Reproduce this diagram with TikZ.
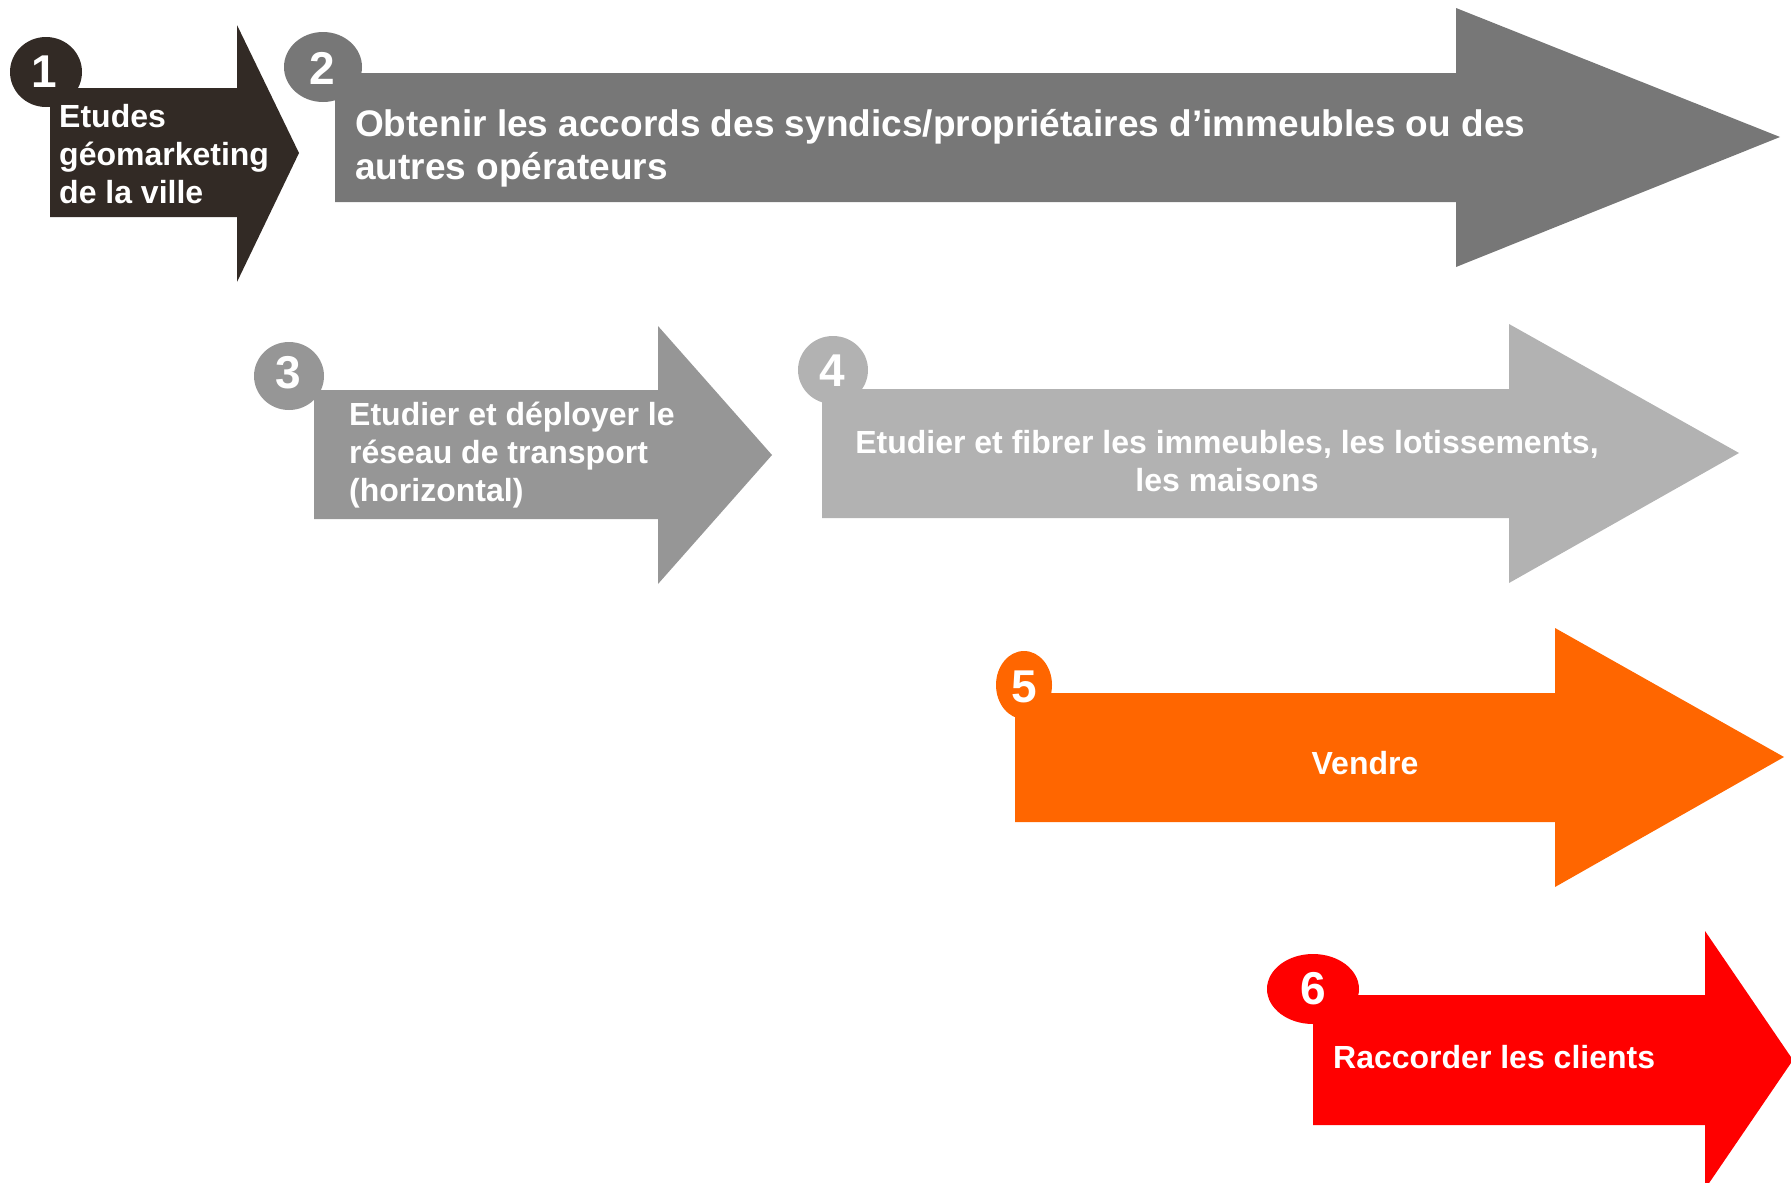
\documentclass[tikz,border=0pt]{standalone}
\usepackage{fontspec}
\setmainfont{Liberation Sans}
\definecolor{cone}{HTML}{322A25}
\definecolor{ctwo}{HTML}{777777}
\definecolor{cthree}{HTML}{969696}
\definecolor{cfour}{HTML}{B2B2B2}
\definecolor{cfive}{HTML}{FF6600}
\definecolor{csix}{HTML}{FF0000}
\begin{document}
\begin{tikzpicture}[x=1pt,y=-1pt,
  lbl/.style={text=white,font=\fontsize{32}{38}\selectfont\bfseries,inner sep=0pt,align=left},
  lblbig/.style={text=white,font=\fontsize{37}{43}\selectfont\bfseries,inner sep=0pt,align=left},
  num/.style={text=white,font=\fontsize{46}{46}\selectfont\bfseries,inner sep=0pt}]
\useasboundingbox (0,0) rectangle (1791,1183);
\clip (0,0) rectangle (1791,1183);
% arrow 1
\fill[cone] (50,88) -- (237,88) -- (237,25) -- (299,153) -- (237,282) -- (237,217) -- (50,217) -- cycle;
\fill[cone] (46,72) ellipse [x radius=36pt, y radius=35pt];
\node[num] (n1) at (44,72) {1};
\node[lbl,anchor=base west] (t1) at (59,203) {Etudes\\géomarketing\\de la ville};
% arrow 2
\fill[ctwo] (335,73) -- (1456,73) -- (1456,8) -- (1780,137) -- (1456,267) -- (1456,202) -- (335,202) -- cycle;
\fill[ctwo] (323,67) ellipse [x radius=39pt, y radius=35pt];
\node[num] (n2) at (322,68) {2};
\node[lblbig,anchor=base west] (t2) at (355,179) {Obtenir les accords des syndics/propriétaires d’immeubles ou des\\autres opérateurs};
% arrow 3
\fill[cthree] (314,390) -- (658,390) -- (658,326) -- (772,455) -- (658,584) -- (658,519) -- (314,519) -- cycle;
\fill[cthree] (289,376) ellipse [x radius=35pt, y radius=34pt];
\node[num] (n3) at (288,373) {3};
\node[lbl,anchor=base west] (t3) at (349,501) {Etudier et déployer le\\réseau de transport\\(horizontal)};
% arrow 4
\fill[cfour] (822,389) -- (1509,389) -- (1509,324) -- (1739,453) -- (1509,583) -- (1509,518) -- (822,518) -- cycle;
\fill[cfour] (833,370) ellipse [x radius=35pt, y radius=34pt];
\node[num] (n4) at (832,371) {4};
\node[lbl,align=center,anchor=base] (t4) at (1227,491) {Etudier et fibrer les immeubles, les lotissements,\\les maisons};
% arrow 5
\fill[cfive] (1015,693) -- (1555,693) -- (1555,628) -- (1784,757) -- (1555,887) -- (1555,822) -- (1015,822) -- cycle;
\fill[cfive] (1024,685) ellipse [x radius=28pt, y radius=34pt];
\node[num] (n5) at (1024,687) {5};
\node[lbl,anchor=base] (t5) at (1365,774) {Vendre};
% arrow 6
\fill[csix] (1313,995) -- (1705,995) -- (1705,931) -- (1793,1060) -- (1705,1189) -- (1705,1125) -- (1313,1125) -- cycle;
\fill[csix] (1313,989) ellipse [x radius=46pt, y radius=35pt];
\node[num] (n6) at (1313,989) {6};
\node[lbl,anchor=base west] (t6) at (1333,1068) {Raccorder les clients};
\end{tikzpicture}
\end{document}
